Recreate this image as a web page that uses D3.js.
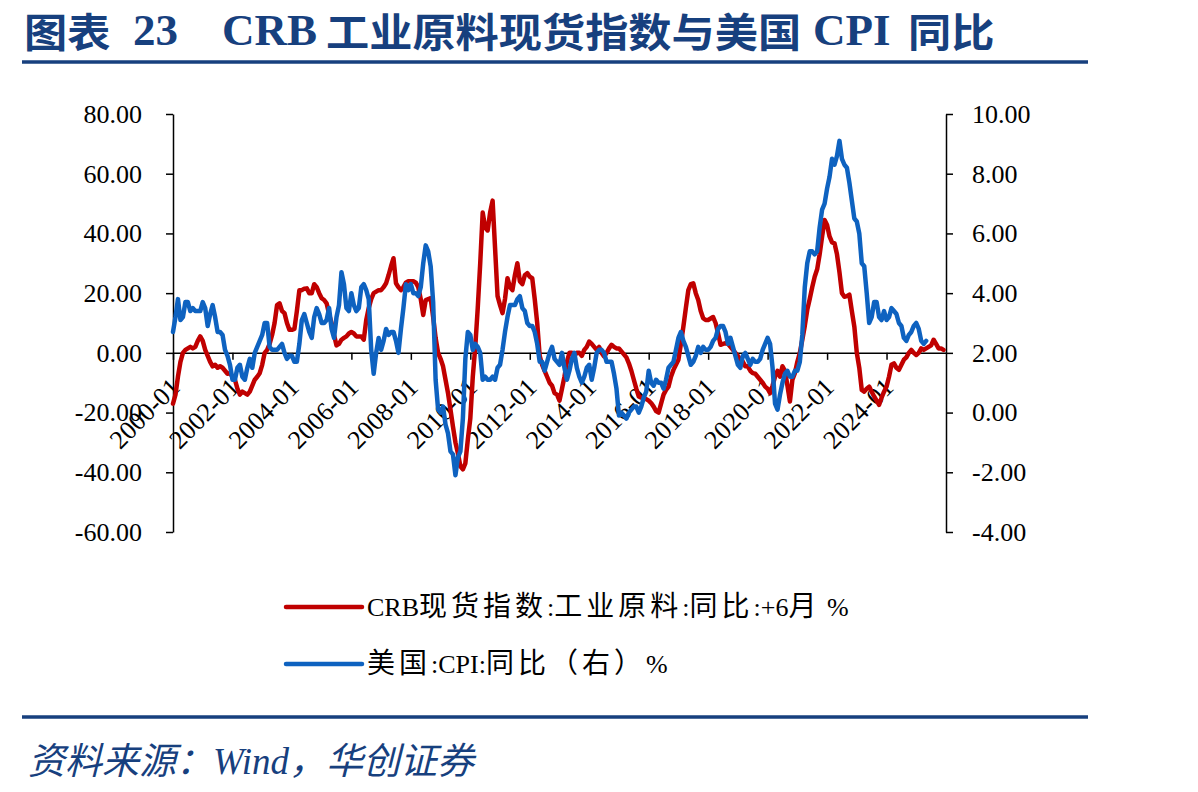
<!DOCTYPE html>
<html><head><meta charset="utf-8">
<script src="https://cdn.jsdelivr.net/npm/d3@7"></script>
<style>body{margin:0;background:#fff} svg{display:block}</style>
</head><body><svg id="c" width="1198" height="792"></svg>
<script>
// ---------------- data ----------------
const startMonth = "2000-01";
// CRB 现货指数:工业原料:同比 (+6月), monthly, 2000-01 ... 2025-12
const crbYoY = [
  -17, -14, -8, -3, 0, 1, 1.5, 2, 1.5, 2, 4, 5.5,          // 2000
  4, 1, -1, -3, -4.5, -4, -5, -4.5, -5, -6, -7, -6.8,      // 2001
  -8, -9, -12, -14, -13, -13.5, -14, -13, -11, -9, -8, -6.8, // 2002
  -4, 0, 1, 3, 6, 10, 16, 16.6, 14, 13.3, 10, 7.7,         // 2003
  7.7, 8, 14, 21, 21, 21.5, 21.6, 20, 20, 23, 22, 20,      // 2004
  18.3, 17.7, 16.6, 13, 10, 6, 2.5, 3, 4.4, 5, 5.5, 6.5,   // 2005
  7, 6.5, 5.5, 5.5, 5.5, 4.4, 11, 15, 18, 20, 20.5, 21,    // 2006
  21, 22, 23.3, 26, 29, 31.7, 23.3, 22, 21, 22, 23.5, 24,  // 2007
  24, 24, 23.5, 22, 18, 12.7, 17.7, 18, 18.3, 12, 5, 0,    // 2008
  -2, -4.5, -9, -13.5, -19, -24.7, -30, -33.6, -38, -39, -37, -29, // 2009
  -22, -8, 2, 15, 30, 47, 42, 41, 47, 51, 35, 19,          // 2010
  16, 13.3, 18, 25, 22, 21, 26, 30, 24, 23, 26, 26.7,      // 2011
  25.5, 25, 18, 10, -1, -4, -6, -8, -10, -11, -13.5, -14,  // 2012
  -16, -12, -8, -3, 0, 0, -1, 0, 0, -1, 1, 2,              // 2013
  3.8, 3, 2, 1, 2, 0, -1.2, 0, 1.5, 2.7, 2, 1.5,           // 2014
  1.5, 0.5, -0.5, -1.5, -3.5, -6, -9, -12, -14.6, -15, -15.2, -15.5, // 2015
  -16, -16.8, -18, -19.5, -20, -17, -14, -12.4, -11.3, -8, -5.7, -4, // 2016
  -2.3, 3, 8.8, 15, 21, 23, 23.3, 20, 17.7, 14, 11.6, 11,  // 2017
  11, 11.5, 12, 10, 6.6, 2.7, 3, 3.2, 3, 2, 1, 0,          // 2018
  -1, -2.3, -3, -4.5, -4.5, -6, -6.8, -7, -8, -9, -10, -11.3, // 2019
  -12, -13.5, -11, -8, -6, -8, -4.5, -6, -11, -16.3, -9, -6.8, // 2020
  -3, 0, 4.4, 9, 14.4, 18, 22, 25.5, 28, 33, 39, 44.5,     // 2021
  42.8, 39, 37, 36.7, 33, 27, 20, 18.8, 19, 19.5, 14, 8.8, // 2022
  0, -5, -12.4, -13, -12, -11.3, -13, -14.6, -16, -17.4, -15, -13, // 2023
  -11.3, -8, -4, -3.5, -5, -5.7, -4, -2.3, -1.5, 0, 1, 0,  // 2024
  -0.7, 0, 1.5, 1, 1.5, 2, 2.5, 4.4, 3, 1.5, 1.5, 1        // 2025
];
// 美国:CPI:同比 (右轴), monthly, 2000-01 ... 2025-05
const cpiYoY = [
  2.7, 3.2, 3.8, 3.1, 3.2, 3.7, 3.7, 3.4, 3.5, 3.4, 3.4, 3.4, // 2000
  3.7, 3.5, 2.9, 3.3, 3.6, 3.2, 2.7, 2.7, 2.6, 2.1, 1.9, 1.6, // 2001
  1.1, 1.1, 1.5, 1.6, 1.2, 1.1, 1.5, 1.8, 1.5, 2.0, 2.2, 2.4, // 2002
  2.6, 3.0, 3.0, 2.2, 2.1, 2.1, 2.1, 2.2, 2.3, 2.0, 1.8, 1.9, // 2003
  1.9, 1.7, 1.7, 2.3, 3.1, 3.3, 3.0, 2.7, 2.5, 3.2, 3.5, 3.3, // 2004
  3.0, 3.0, 3.1, 3.5, 2.8, 2.5, 3.2, 3.6, 4.7, 4.3, 3.5, 3.4, // 2005
  4.0, 3.6, 3.4, 3.5, 4.2, 4.3, 4.1, 3.8, 2.1, 1.3, 2.0, 2.5, // 2006
  2.1, 2.4, 2.8, 2.6, 2.7, 2.7, 2.4, 2.0, 2.8, 3.5, 4.3, 4.1, // 2007
  4.3, 4.0, 4.0, 3.9, 4.2, 5.0, 5.6, 5.4, 4.9, 3.7, 1.1, 0.1, // 2008
  0.0, 0.2, -0.4, -0.7, -1.3, -1.4, -2.1, -1.5, -1.3, -0.2, 1.8, 2.7, // 2009
  2.6, 2.1, 2.3, 2.2, 2.0, 1.1, 1.2, 1.1, 1.1, 1.2, 1.1, 1.5, // 2010
  1.6, 2.1, 2.7, 3.2, 3.6, 3.6, 3.6, 3.8, 3.9, 3.5, 3.4, 3.0, // 2011
  2.9, 2.9, 2.7, 2.3, 1.7, 1.7, 1.4, 1.7, 2.0, 2.2, 1.8, 1.7, // 2012
  1.6, 2.0, 1.5, 1.1, 1.4, 1.8, 2.0, 1.5, 1.2, 1.0, 1.2, 1.5, // 2013
  1.6, 1.1, 1.5, 2.0, 2.1, 2.1, 2.0, 1.7, 1.7, 1.7, 1.3, 0.8, // 2014
  -0.1, 0.0, -0.1, -0.2, 0.0, 0.1, 0.2, 0.2, 0.0, 0.2, 0.5, 0.7, // 2015
  1.4, 1.0, 0.9, 1.1, 1.0, 1.0, 0.8, 1.1, 1.5, 1.6, 1.7, 2.1, // 2016
  2.5, 2.7, 2.4, 2.2, 1.9, 1.6, 1.7, 1.9, 2.2, 2.0, 2.2, 2.1, // 2017
  2.1, 2.2, 2.4, 2.5, 2.8, 2.9, 2.9, 2.7, 2.3, 2.5, 2.2, 1.9, // 2018
  1.6, 1.5, 1.9, 2.0, 1.8, 1.6, 1.8, 1.7, 1.7, 1.8, 2.1, 2.3, // 2019
  2.5, 2.3, 1.5, 0.3, 0.1, 0.6, 1.0, 1.3, 1.4, 1.2, 1.2, 1.4, // 2020
  1.4, 1.7, 2.6, 4.2, 5.0, 5.4, 5.4, 5.3, 5.4, 6.2, 6.8, 7.0, // 2021
  7.5, 7.9, 8.5, 8.3, 8.6, 9.1, 8.5, 8.3, 8.2, 7.7, 7.1, 6.5, // 2022
  6.4, 6.0, 5.0, 4.9, 4.0, 3.0, 3.2, 3.7, 3.7, 3.2, 3.1, 3.4, // 2023
  3.1, 3.2, 3.5, 3.4, 3.3, 3.0, 2.9, 2.5, 2.4, 2.6, 2.7, 2.9, // 2024
  3.0, 2.8, 2.4, 2.3, 2.4                                     // 2025
];
const leftTicks = [80, 60, 40, 20, 0, -20, -40, -60];
const rightTicks = [10, 8, 6, 4, 2, 0, -2, -4];
const xTickLabels = ["2000-01","2002-01","2004-01","2006-01","2008-01","2010-01","2012-01",
                     "2014-01","2016-01","2018-01","2020-01","2022-01","2024-01"];
const seriesNames = ["CRB现货指数:工业原料:同比:+6月 %", "美国:CPI:同比（右）%"];
const titleParts = ["图表", "23", "CRB", "工业原料现货指数与美国", "CPI", "同比"];
const sourceText = "资料来源：Wind，华创证券";

// ---------------- chart ----------------
const svg = d3.select("#c");
const navy = "#17407E";
const red = "#C00000", blue = "#0E62C0";
const serif = "'Liberation Serif','Times New Roman','Noto Sans CJK SC',serif";
const cjkFont = "'Noto Sans CJK SC',sans-serif";
const isCJK = s => /[\u3000-\u9fff\uff00-\uffef]/.test(s);

const months = d3.timeMonth.range(d3.timeParse("%Y-%m")(startMonth), new Date(2026, 0, 1));
const monthIndex = m => d3.timeMonth.count(months[0], m);
const xLabelIndex = xTickLabels.map(s => monthIndex(d3.timeParse("%Y-%m")(s)));

const x = d3.scaleLinear().domain([0, months.length]).range([173, 946]);
const yL = d3.scaleLinear().domain([-60, 80]).range([532, 114]);
const yR = d3.scaleLinear().domain([-4, 10]).range([532, 114]);

// title (separate pieces)
const titleX = [24, 133, 222, 326, 813, 908];
titleParts.forEach((p, i) => {
  const c = isCJK(p);
  svg.append("text")
    .attr("transform", c ? `translate(${titleX[i]},46.5) scale(1.08,1)` : `translate(${titleX[i]},45)`)
    .attr("fill", navy).attr("font-weight", "bold")
    .attr("font-family", c ? cjkFont : serif)
    .attr("font-size", c ? 40 : 45).text(p);
});
svg.append("line").attr("x1", 22).attr("x2", 1088).attr("y1", 62).attr("y2", 62)
  .attr("stroke", navy).attr("stroke-width", 3.5);

// axes
const fmt = d => d.toFixed(2);
const gL = svg.append("g").attr("transform", `translate(${x(0)},0)`)
  .call(d3.axisLeft(yL).tickValues(leftTicks).tickFormat(fmt).tickSize(7).tickSizeOuter(0).tickPadding(24));
const gR = svg.append("g").attr("transform", `translate(${x(months.length)},0)`)
  .call(d3.axisRight(yR).tickValues(rightTicks).tickFormat(fmt).tickSize(7).tickSizeOuter(0).tickPadding(19));
const gX = svg.append("g").attr("transform", `translate(0,${yL(0)})`)
  .call(d3.axisBottom(x).tickValues(xLabelIndex).tickFormat((d, i) => xTickLabels[i]).tickSize(7).tickSizeOuter(0));
[gL, gR, gX].forEach(g => {
  g.select(".domain").attr("stroke", "#000").attr("stroke-width", 1.5);
  g.selectAll(".tick line").attr("stroke", "#000").attr("stroke-width", 1.5);
  g.selectAll("text").attr("font-family", serif).attr("font-size", 26).attr("fill", "#000");
});
gX.selectAll(".tick text").attr("text-anchor", "end").attr("y", 0).attr("dy", 0)
  .attr("x", 0).attr("transform", "translate(8,36) rotate(-45)");

// lines
const lineL = d3.line().x((d, i) => x(i)).y(d => yL(d)).curve(d3.curveLinear);
const lineR = d3.line().x((d, i) => x(i)).y(d => yR(d)).curve(d3.curveLinear);
svg.append("path").datum(crbYoY).attr("d", lineL).attr("fill", "none")
  .attr("stroke", red).attr("stroke-width", 4.5).attr("stroke-linejoin", "round").attr("stroke-linecap", "round");
svg.append("path").datum(cpiYoY).attr("d", lineR).attr("fill", "none")
  .attr("stroke", blue).attr("stroke-width", 4.5).attr("stroke-linejoin", "round").attr("stroke-linecap", "round");

// mixed-script text helper
function mixed(sel, str, latinSize, cjkSize, cjkSpacing) {
  const runs = str.match(/[\u3000-\u9fff\uff00-\uffef]+|[^\u3000-\u9fff\uff00-\uffef]+/g);
  runs.forEach(r => {
    const c = isCJK(r);
    sel.append("tspan")
      .attr("font-family", c ? cjkFont : serif)
      .attr("font-size", c ? cjkSize : latinSize)
      .attr("letter-spacing", c ? cjkSpacing : 0)
      .text(r);
  });
}

// legend
const legY = [607, 664];
[red, blue].forEach((c, i) => {
  svg.append("line").attr("x1", 286).attr("x2", 362).attr("y1", legY[i]).attr("y2", legY[i])
    .attr("stroke", c).attr("stroke-width", 4.5).attr("stroke-linecap", "round");
  const tx = svg.append("text").attr("x", 367).attr("y", legY[i] + 9).attr("fill", "#000")
    .attr("xml:space", "preserve");
  mixed(tx, seriesNames[i], 26, 28, 4);
});

// footer
svg.append("line").attr("x1", 22).attr("x2", 1088).attr("y1", 717).attr("y2", 717)
  .attr("stroke", navy).attr("stroke-width", 3.5);
const ft = svg.append("text").attr("x", 28).attr("y", 774).attr("fill", navy)
  .attr("font-style", "italic");
mixed(ft, sourceText, 37, 37, 0);
</script></body></html>
